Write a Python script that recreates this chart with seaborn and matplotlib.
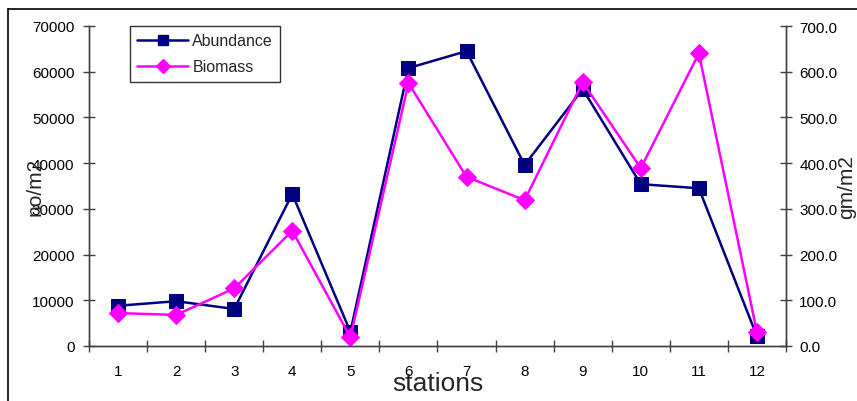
import matplotlib
matplotlib.use("Agg")
import matplotlib.pyplot as plt
from matplotlib.lines import Line2D
import seaborn as sns
import pandas as pd
import numpy as np

stations = list(range(1, 13))
abundance = [8800, 9800, 8100, 33250, 3100, 60800, 64500, 39600, 56200, 35400, 34500, 2100]
biomass = [72, 68, 126, 252, 19, 575, 370, 319, 577, 389, 640, 30]
left_ticks = [0, 10000, 20000, 30000, 40000, 50000, 60000, 70000]
right_ticks = [0, 100, 200, 300, 400, 500, 600, 700]

sns.set_theme(style="white")
plt.rcParams["font.family"] = ["Liberation Sans", "DejaVu Sans"]

df = pd.DataFrame({"station": stations, "Abundance": abundance, "Biomass": biomass})

fig = plt.figure(figsize=(8.57, 4.02), dpi=100)
ax = fig.add_axes([89 / 857, 1 - 347 / 402, 697 / 857, 320 / 402])
ax2 = ax.twinx()

navy = "#000080"
magenta = "#FF00FF"

sns.lineplot(data=df, x="station", y="Abundance", ax=ax, color=navy, marker="s",
             markersize=10, linewidth=1.8, markeredgecolor=navy, legend=False)
sns.lineplot(data=df, x="station", y="Biomass", ax=ax2, color=magenta, marker="D",
             markersize=9, linewidth=1.8, markeredgecolor=magenta, legend=False)

axis_col = "#404040"
for a in (ax, ax2):
    a.set_xlim(0.5, 12.5)
    a.set_facecolor("none")
    a.grid(False)
    a.spines["top"].set_visible(False)
    for s in ("left", "right", "bottom"):
        a.spines[s].set_color(axis_col)
        a.spines[s].set_linewidth(1.0)

ax.set_ylim(0, 70000)
ax2.set_ylim(0, 700)
ax.set_yticks(left_ticks)
ax.set_yticklabels([str(v) for v in left_ticks])
ax2.set_yticks(right_ticks)
ax2.set_yticklabels([f"{v:.1f}" for v in right_ticks])

# category axis: tick marks between stations, labels at station centres
ax.set_xticks(np.arange(0.5, 13, 1.0))
ax.set_xticklabels([])
ax.set_xticks(stations, minor=True)
ax.set_xticklabels([str(s) for s in stations], minor=True)
ax.tick_params(axis="x", which="major", direction="inout", length=9, width=1, color=axis_col, bottom=True)
ax.tick_params(axis="x", which="minor", length=0, labelsize=11, pad=13, colors="black")
ax.tick_params(axis="y", direction="inout", length=9, width=1, color=axis_col, left=True,
               labelsize=11, pad=6, labelcolor="black")
ax2.tick_params(axis="y", direction="inout", length=9, width=1, color=axis_col, right=True,
                labelsize=11, pad=5, labelcolor="black")

ax.set_xlabel("stations", fontsize=19)
ax.xaxis.set_label_coords(0.5, -0.115)
ax.xaxis.label.set_va("center")
ax.set_ylabel("no/m2", fontsize=15)
ax.yaxis.set_label_coords(-0.0775, 0.5)
ax.yaxis.label.set_va("center")
ax2.set_ylabel("gm/m2", fontsize=15)
ax2.yaxis.set_label_coords(1.0875, 0.5)
ax2.yaxis.label.set_va("center")

legend_handles = [
    Line2D([], [], color=navy, marker="s", markersize=7.5, linewidth=1.8,
           markeredgecolor=navy),
    Line2D([], [], color=magenta, marker="D", markersize=7, linewidth=1.8,
           markeredgecolor=magenta),
]
leg = fig.legend(legend_handles, ["Abundance", "Biomass"], loc="upper left",
                 bbox_to_anchor=(130 / 857, 1 - 27 / 402), fontsize=11.5,
                 frameon=True, fancybox=False, shadow=False, handlelength=3.2,
                 handletextpad=0.25, labelspacing=0.7, borderpad=0.45,
                 borderaxespad=0)
leg.get_frame().set_edgecolor("black")
leg.get_frame().set_linewidth(1.0)

# outer frame lines
fig.add_artist(Line2D([8 / 857, 8 / 857], [0, 1 - 10 / 402], transform=fig.transFigure,
                      color="black", linewidth=1.2))
fig.add_artist(Line2D([8 / 857, 1], [1 - 10 / 402, 1 - 10 / 402], transform=fig.transFigure,
                      color="black", linewidth=1.2))

fig.savefig("out.png", dpi=100)
